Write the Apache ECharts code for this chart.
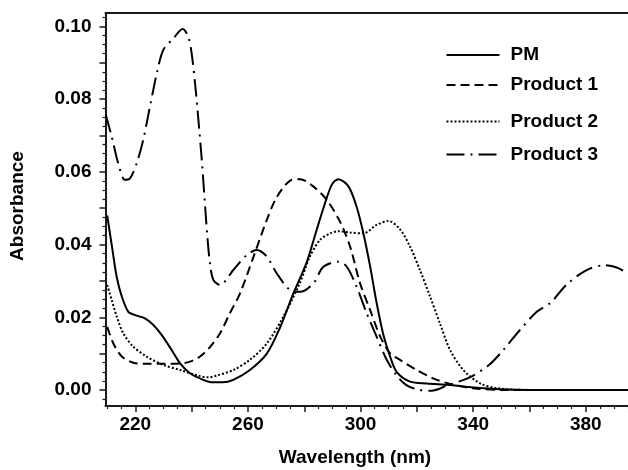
<!DOCTYPE html>
<html><head><meta charset="utf-8">
<script src="https://cdn.jsdelivr.net/npm/echarts@6/dist/echarts.min.js"></script>
<style>html,body{margin:0;padding:0;background:#fff}#c{width:628px;height:470px}</style>
</head><body><div id="c"></div>
<script>
// ---- data (wavelength nm, absorbance) ----
const wlPM  = [210, 211.6, 213.4, 215.2, 217.5, 219.9, 223.4, 226.4, 229.4, 232.9, 235.9, 239.4, 244.1, 247.5, 251, 254.8, 260.7, 266.7, 271.4, 276.1, 280.9, 284, 286.8, 289.8, 292.1, 295.7, 298.6, 301, 303.4, 305.7, 308.1, 310.5, 312.8, 317.6, 323.5, 331.8, 340.1, 349.5, 360, 395];
const absPM = [0.048, 0.040, 0.031, 0.0257, 0.0215, 0.0206, 0.0197, 0.0179, 0.0151, 0.011, 0.0073, 0.0046, 0.0028, 0.0021, 0.0021, 0.0028, 0.0055, 0.010, 0.0172, 0.0265, 0.0352, 0.043, 0.050, 0.0565, 0.058, 0.056, 0.0504, 0.0431, 0.034, 0.024, 0.0152, 0.0092, 0.005, 0.0023, 0.0018, 0.0014, 0.0007, 0.0002, 0.0, 0.0];

const wlP1  = [210, 212.2, 215.2, 219.3, 224, 230, 235.9, 239.4, 243, 246.5, 250.1, 253.5, 257.2, 262, 266.7, 270.2, 275, 278.5, 283.2, 288, 292.7, 296.3, 299.8, 303.4, 307, 310.5, 314, 320, 325.8, 333, 340, 350, 395];
const absP1 = [0.0174, 0.0128, 0.0092, 0.0075, 0.0072, 0.0072, 0.0073, 0.0078, 0.0092, 0.0118, 0.0156, 0.021, 0.0266, 0.0367, 0.0468, 0.053, 0.0576, 0.058, 0.056, 0.0523, 0.0463, 0.0394, 0.0294, 0.022, 0.0147, 0.0101, 0.0083, 0.0055, 0.0032, 0.0014, 0.0005, 0.0, 0.0];

const wlP2  = [210, 211.6, 213.4, 215.7, 219.3, 224, 229.9, 235.9, 243, 246, 249, 254.8, 260.7, 266.7, 272.6, 278.5, 282, 285.6, 289, 292.1, 296.3, 301, 305.7, 309.9, 314, 317.6, 321.1, 324.7, 328.2, 331.8, 336.5, 342.5, 348.4, 360, 395];
const absP2 = [0.0289, 0.0248, 0.0202, 0.0156, 0.0119, 0.0092, 0.0069, 0.0055, 0.0038, 0.0035, 0.0040, 0.0055, 0.0083, 0.0128, 0.0202, 0.0295, 0.0367, 0.0413, 0.043, 0.0437, 0.0433, 0.0431, 0.0454, 0.0465, 0.0442, 0.0394, 0.033, 0.0257, 0.0183, 0.011, 0.0055, 0.0018, 0.0005, 0.0, 0.0];

const wlP3  = [209.5, 211.6, 213.9, 216.3, 218.1, 220.5, 222.8, 225.2, 227.6, 229.9, 233.5, 236.8, 238.8, 240, 241.2, 242.4, 243.6, 244.8, 245.6, 246.5, 247.7, 250.1, 254.8, 259.6, 263.1, 266.7, 270.2, 274.9, 278.5, 283.2, 286.8, 292.1, 295.1, 298.6, 302.2, 305.7, 309.3, 312.8, 316, 320, 325.3, 330.6, 338.8, 345.5, 350.7, 356.6, 362.6, 367.5, 373.2, 380.3, 386.5, 391, 395];
const absP3 = [0.0757, 0.0697, 0.0624, 0.0578, 0.0582, 0.0624, 0.0688, 0.078, 0.087, 0.0935, 0.0967, 0.0993, 0.0972, 0.0926, 0.0844, 0.0743, 0.0633, 0.0504, 0.042, 0.0349, 0.0303, 0.0289, 0.033, 0.0371, 0.0385, 0.0367, 0.0321, 0.0275, 0.027, 0.0293, 0.0339, 0.0353, 0.0339, 0.0284, 0.0211, 0.0147, 0.0083, 0.004, 0.0015, 0.0002, -0.0002, 0.0012, 0.0035, 0.0068, 0.011, 0.0165, 0.0215, 0.024, 0.029, 0.033, 0.0343, 0.0337, 0.032];

const seriesNames = ['PM', 'Product 1', 'Product 2', 'Product 3'];

// ---- axis ticks / labels ----
const xMajorTicks = [220, 240, 260, 280, 300, 320, 340, 360, 380];
const xLabels = [220, 260, 300, 340, 380];
const xMinorTicks = [210, 215, 225, 230, 235, 245, 250, 255, 265, 270, 275, 285, 290, 295, 305, 310, 315, 325, 330, 335, 345, 350, 355, 365, 370, 375, 385, 390, 395];
const yMajorTicks = [0, 0.01, 0.02, 0.03, 0.04, 0.05, 0.06, 0.07, 0.08, 0.09, 0.10];
const yLabels = [0, 0.02, 0.04, 0.06, 0.08, 0.10];
const yMinorTicks = [-0.0025, 0.0025, 0.005, 0.0075, 0.0125, 0.015, 0.0175, 0.0225, 0.025, 0.0275, 0.0325, 0.035, 0.0375, 0.0425, 0.045, 0.0475, 0.0525, 0.055, 0.0575, 0.0625, 0.065, 0.0675, 0.0725, 0.075, 0.0775, 0.0825, 0.085, 0.0875, 0.0925, 0.095, 0.0975, 0.1025];

const X_MIN = 209.4, X_MAX = 395, Y_MIN = -0.0044, Y_MAX = 0.1037;
const FONT = '"Liberation Sans", Arial, sans-serif';
const AX = '#1a1a1a';

function zip(a, b) { return a.map((v, i) => [v, b[i]]); }

const gridBox = { left: 105.5, right: 0, top: 13, bottom: 64, containLabel: false };

const lineStyles = [
  { color: '#000', width: 2, type: 'solid' },
  { color: '#000', width: 2, type: [9, 5] },
  { color: '#000', width: 2, type: [2, 2] },
  { color: '#000', width: 2, type: [18, 6, 2, 6] }
];
const datas = [zip(wlPM, absPM), zip(wlP1, absP1), zip(wlP2, absP2), zip(wlP3, absP3)];
const legendCenters = [55, 85, 121.5, 154.5];

const option = {
  animation: false,
  backgroundColor: '#fff',
  grid: [Object.assign({}, gridBox), Object.assign({}, gridBox)],
  xAxis: [
    { type: 'value', gridIndex: 0, position: 'bottom', min: X_MIN, max: X_MAX,
      axisLine: { show: true, onZero: false, lineStyle: { color: AX, width: 2 } },
      axisTick: { show: true, customValues: xMajorTicks, length: 6, lineStyle: { color: AX, width: 1.5 } },
      axisLabel: { show: true, customValues: xLabels, margin: 9, color: '#000', fontFamily: FONT, fontWeight: 'bold', fontSize: 19 },
      splitLine: { show: false } },
    { type: 'value', gridIndex: 0, position: 'top', min: X_MIN, max: X_MAX,
      axisLine: { show: true, onZero: false, lineStyle: { color: AX, width: 2 } },
      axisTick: { show: false }, axisLabel: { show: false }, splitLine: { show: false } },
    { type: 'value', gridIndex: 1, position: 'bottom', min: X_MIN, max: X_MAX,
      axisLine: { show: false, onZero: false },
      axisTick: { show: true, customValues: xMinorTicks, length: 3, lineStyle: { color: AX, width: 1.2 } },
      axisLabel: { show: false }, splitLine: { show: false } }
  ],
  yAxis: [
    { type: 'value', gridIndex: 0, position: 'left', min: Y_MIN, max: Y_MAX,
      axisLine: { show: true, onZero: false, lineStyle: { color: AX, width: 2 } },
      axisTick: { show: true, customValues: yMajorTicks, length: 6, lineStyle: { color: AX, width: 1.5 } },
      axisLabel: { show: true, customValues: yLabels, margin: 14, color: '#000', fontFamily: FONT, fontWeight: 'bold', fontSize: 19,
        formatter: v => Number(v).toFixed(2) },
      splitLine: { show: false } },
    { type: 'value', gridIndex: 1, position: 'left', min: Y_MIN, max: Y_MAX,
      axisLine: { show: false, onZero: false },
      axisTick: { show: true, customValues: yMinorTicks, length: 3, lineStyle: { color: AX, width: 1.2 } },
      axisLabel: { show: false }, splitLine: { show: false } }
  ],
  legend: seriesNames.map((n, i) => ({
    data: [n], left: 445.5, top: legendCenters[i] - 9.5, orient: 'vertical',
    itemWidth: 53, itemHeight: 14, padding: 0, selectedMode: false,
    itemStyle: { opacity: 0, borderWidth: 0 },
    textStyle: { fontFamily: FONT, fontWeight: 'bold', fontSize: 19, lineHeight: 19, color: '#000', padding: [0, 0, 0, 6] }
  })),
  graphic: [
    { type: 'text', x: 355, y: 458,
      style: { text: 'Wavelength (nm)', font: 'bold 19px ' + FONT, fill: '#000', align: 'center', verticalAlign: 'middle' } },
    { type: 'text', x: 17.5, y: 206, rotation: Math.PI / 2,
      style: { text: 'Absorbance', font: 'bold 19px ' + FONT, fill: '#000', align: 'center', verticalAlign: 'middle' } }
  ],
  series: seriesNames.map((n, i) => ({
    name: n, type: 'line', xAxisIndex: 0, yAxisIndex: 0,
    data: datas[i], smooth: 0.3, showSymbol: false, symbol: 'none',
    lineStyle: lineStyles[i], itemStyle: { color: '#000' }, clip: true
  }))
};

const chart = echarts.init(document.getElementById('c'), null, { renderer: 'canvas' });
chart.setOption(option);
</script>
</body></html>
